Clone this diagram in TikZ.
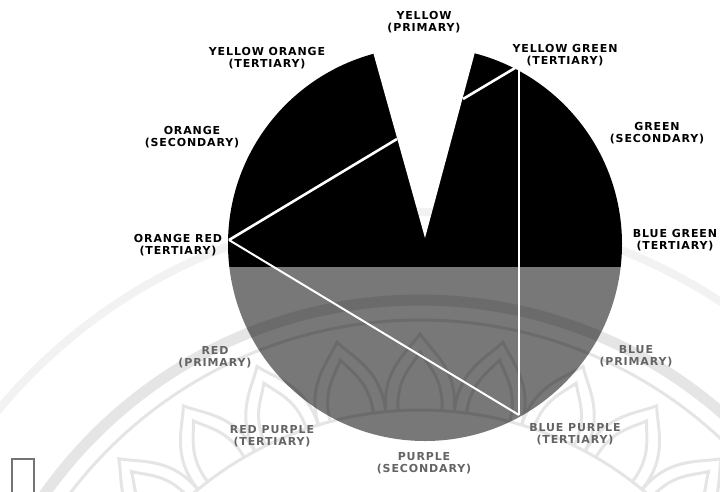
\documentclass[tikz,border=0pt]{standalone}
\usepackage{fontspec}
\newfontfamily\wheelfont[LetterSpace=8]{DejaVu Sans}
\usepackage{tikz}
\usetikzlibrary{calc}
\definecolor{wheelgray}{RGB}{120,120,120}
\definecolor{labelgray}{RGB}{100,100,100}

\begin{document}
\begin{tikzpicture}[x=1pt, y=-1pt,
    hue/.style={align=center, inner sep=0pt,
        font=\wheelfont\bfseries\fontsize{11}{12.5}\selectfont},
    huedim/.style={hue, text=labelgray},
    split/.style={draw=white, line width=2.6pt},
    seal/.style={draw=black, line width=3pt}]
  \useasboundingbox (0,0) rectangle (720,491);
  \coordinate (hub) at (425,244);
  \coordinate (wm) at (420,760);

  % wheel
  \begin{scope}
    \clip (hub) circle[radius=197pt];
    \fill[black] (220,40) rectangle (630,267);
    \fill[wheelgray] (220,267) rectangle (630,450);
  \end{scope}
  \fill[white] (373,40) -- (373,52) -- (425,238) -- (475,52) -- (475,40) -- cycle;

  % faint seal behind
  \begin{scope}[opacity=0.1, transparency group]
    \draw[seal, line width=11pt] (wm) circle[radius=460pt];
    \draw[seal] (wm) circle[radius=440pt];
    \draw[seal] (wm) circle[radius=350pt];
    \foreach \a in {0,11.25,...,350}{
      \draw[seal] ($(wm)+(\a-5.6:350pt)$) .. controls ($(wm)+(\a-5.6:392pt)$) and ($(wm)+(\a-1.8:408pt)$) .. ($(wm)+(\a:426pt)$)
        .. controls ($(wm)+(\a+1.8:408pt)$) and ($(wm)+(\a+5.6:392pt)$) .. ($(wm)+(\a+5.6:350pt)$);
      \draw[seal] ($(wm)+(\a-3.6:350pt)$) .. controls ($(wm)+(\a-3.6:382pt)$) and ($(wm)+(\a-1.2:394pt)$) .. ($(wm)+(\a:408pt)$)
        .. controls ($(wm)+(\a+1.2:394pt)$) and ($(wm)+(\a+3.6:382pt)$) .. ($(wm)+(\a+3.6:350pt)$);
    }
  \end{scope}
  \draw[seal, line width=8pt, opacity=0.05] (wm) circle[radius=548pt];

  \coordinate (ptor) at (229,240);
  \coordinate (ptov) at (397,139);
  \coordinate (ptyg) at (515,68);
  \coordinate (ptyv) at (463,99);
  \coordinate (ptvt) at (519,68);
  \coordinate (ptbp) at (519,415);
  \draw[split] (ptor) -- (ptov);
  \draw[split, line width=2pt] (ptor) -- (ptbp);
  \draw[split] (ptvt) -- (ptbp);
  \draw[split] (ptyg) -- (ptyv);

  % labels
  \node[hue] (yellow) at (424,22) {YELLOW\\(PRIMARY)};
  \node[hue] (yelloworange) at (267,58) {YELLOW ORANGE\\(TERTIARY)};
  \node[hue] (yellowgreen) at (565,55) {YELLOW GREEN\\(TERTIARY)};
  \node[hue] (orange) at (192,137) {ORANGE\\(SECONDARY)};
  \node[hue] (green) at (657,133) {GREEN\\(SECONDARY)};
  \node[hue] (orangered) at (178,245) {ORANGE RED\\(TERTIARY)};
  \node[hue] (bluegreen) at (675,240) {BLUE GREEN\\(TERTIARY)};
  \node[huedim] (red) at (215,357) {RED\\(PRIMARY)};
  \node[huedim] (blue) at (636,356) {BLUE\\(PRIMARY)};
  \node[huedim] (redpurple) at (272,436) {RED PURPLE\\(TERTIARY)};
  \node[huedim] (purple) at (424,463) {PURPLE\\(SECONDARY)};
  \node[huedim] (bluepurple) at (575,434) {BLUE PURPLE\\(TERTIARY)};

  \draw[black!55, line width=1.6pt] (12,493) -- (12,459) -- (34,459) -- (34,493);
\end{tikzpicture}
\end{document}
